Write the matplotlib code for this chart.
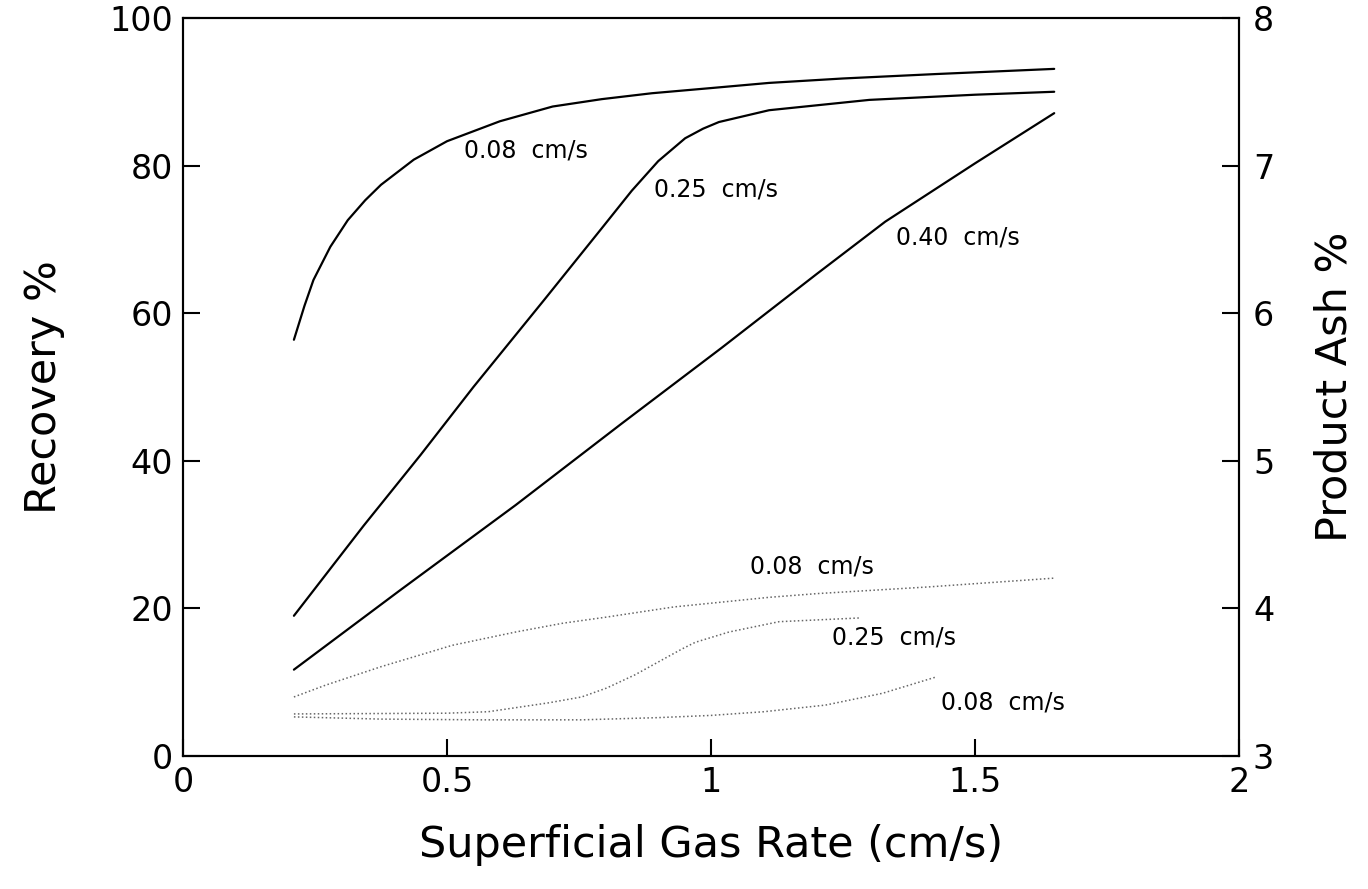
import matplotlib
matplotlib.use("Agg")
import matplotlib.pyplot as plt

plt.rcParams['font.family'] = ['DejaVu Sans']

# Recovery curves (left axis, %)
rec_008_x = [0.21, 0.23, 0.247, 0.279, 0.312, 0.345, 0.375, 0.437, 0.5, 0.6, 0.7, 0.793, 0.888, 1.0, 1.11, 1.25, 1.426, 1.65]
rec_008_y = [56.4, 61.0, 64.5, 69.0, 72.6, 75.3, 77.4, 80.8, 83.3, 86.0, 88.0, 89.0, 89.8, 90.5, 91.2, 91.8, 92.4, 93.1]
rec_025_x = [0.21, 0.342, 0.45, 0.55, 0.684, 0.793, 0.85, 0.9, 0.951, 0.985, 1.015, 1.11, 1.3, 1.5, 1.65]
rec_025_y = [19.0, 31.2, 40.8, 50.0, 61.8, 71.5, 76.6, 80.6, 83.7, 85.0, 85.9, 87.5, 88.9, 89.6, 90.0]
rec_040_x = [0.21, 0.41, 0.63, 0.83, 1.02, 1.2, 1.33, 1.5, 1.65]
rec_040_y = [11.7, 22.4, 34.0, 45.0, 55.3, 65.3, 72.4, 80.3, 87.1]

# Product ash curves (right axis, %)
ash_a_x = [0.21, 0.27, 0.375, 0.51, 0.63, 0.72, 0.8, 0.93, 1.11, 1.2, 1.41, 1.65]
ash_a_y = [3.40, 3.48, 3.605, 3.75, 3.84, 3.90, 3.94, 4.01, 4.075, 4.10, 4.145, 4.205]
ash_b_x = [0.21, 0.5, 0.578, 0.692, 0.755, 0.802, 0.856, 0.894, 0.945, 0.97, 1.034, 1.129, 1.28]
ash_b_y = [3.285, 3.29, 3.30, 3.36, 3.40, 3.46, 3.55, 3.625, 3.725, 3.77, 3.84, 3.91, 3.935]
ash_c_x = [0.21, 0.375, 0.565, 0.755, 0.9, 1.0, 1.1, 1.217, 1.325, 1.426]
ash_c_y = [3.265, 3.25, 3.245, 3.245, 3.26, 3.275, 3.30, 3.345, 3.425, 3.535]

labels_text = ["0.08 cm/s", "0.25 cm/s", "0.40 cm/s", "0.08 cm/s", "0.25 cm/s", "0.08 cm/s"]
labels_x = [0.532, 0.892, 1.35, 1.074, 1.23, 1.435]
labels_y = [82.1, 76.8, 70.3, 25.7, 16.1, 7.2]

fig = plt.figure(figsize=(13.68, 8.89), dpi=100)
ax = fig.add_axes([0.1338, 0.1496, 0.9057 - 0.1338, 0.9798 - 0.1496])
ax2 = ax.twinx()

for xs, ys in [(rec_008_x, rec_008_y), (rec_025_x, rec_025_y), (rec_040_x, rec_040_y)]:
    ax.plot(xs, ys, color='black', lw=1.6, solid_capstyle='round', solid_joinstyle='round')

for xs, ys in [(ash_a_x, ash_a_y), (ash_b_x, ash_b_y), (ash_c_x, ash_c_y)]:
    ax2.plot(xs, ys, color='0.4', lw=1.1, linestyle=(0, (1, 1.6)))

for t, x, y in zip(labels_text, labels_x, labels_y):
    ax.text(x, y, t.replace(" ", "  "), fontsize=17, ha='left', va='center', color='black')

ax.set_xlim(0, 2)
ax.set_ylim(0, 100)
ax2.set_ylim(3, 8)
ax.set_xticks([0, 0.5, 1, 1.5, 2])
ax.set_xticklabels(['0', '0.5', '1', '1.5', '2'])
ax.set_yticks([0, 20, 40, 60, 80, 100])
ax2.set_yticks([3, 4, 5, 6, 7, 8])

for a in (ax, ax2):
    for s in a.spines.values():
        s.set_linewidth(1.5)
    a.tick_params(direction='in', length=12, width=1.5, labelsize=24, pad=7)
ax2.tick_params(pad=10)
ax.tick_params(axis='x', pad=7)

ax.set_xlabel('Superficial Gas Rate (cm/s)', fontsize=31, labelpad=18)
ax.set_ylabel('Recovery %', fontsize=31, labelpad=32)
ax2.set_ylabel('Product Ash %', fontsize=31, labelpad=28)

fig.savefig('out.png', dpi=100, facecolor='white')
